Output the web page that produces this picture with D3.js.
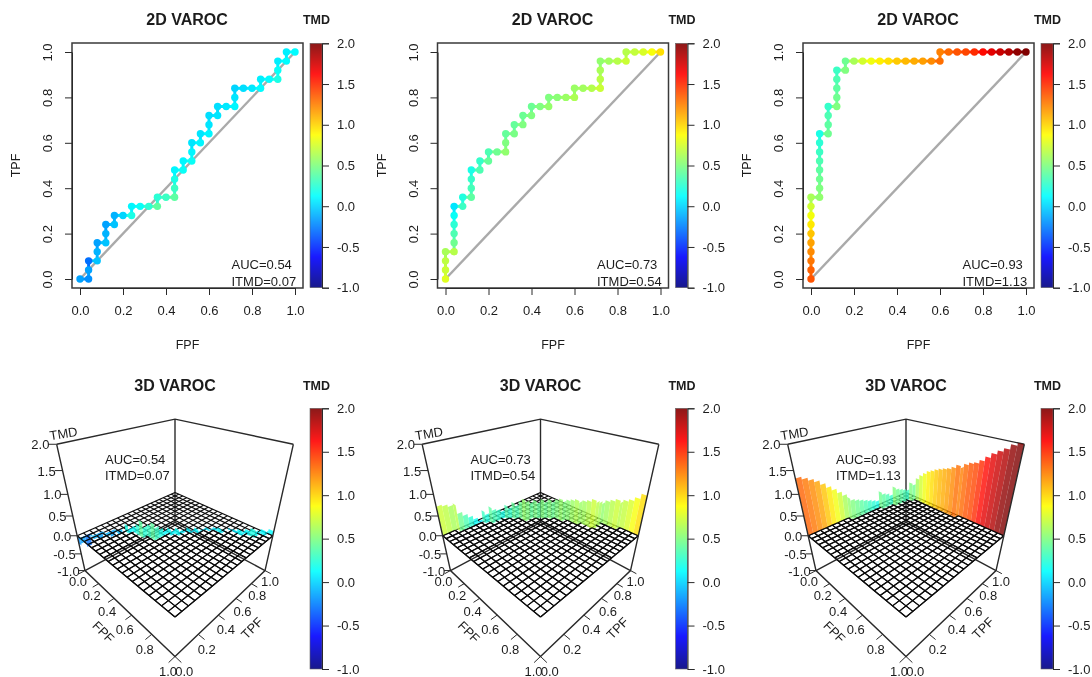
<!DOCTYPE html>
<html><head><meta charset="utf-8">
<script src="https://cdn.jsdelivr.net/npm/d3@7"></script>
<style>
html,body{margin:0;padding:0;background:#fff}
svg{display:block;filter:blur(0.3px)}
text{font-family:"Liberation Sans",Arial,sans-serif;fill:#1c1c1c}
</style></head><body>
<svg id="c" width="1092" height="677"></svg>
<script>
const fpf1=[0,.04,.04,.04,.08,.08,.08,.12,.12,.12,.16,.16,.2,.24,.24,.28,.32,.36,.36,.4,.44,.44,.44,.44,.48,.48,.52,.52,.52,.56,.56,.6,.6,.6,.64,.64,.68,.72,.72,.72,.76,.8,.84,.84,.88,.92,.92,.92,.96,.96,1];
const tpf1=[0,0,.04,.08,.08,.12,.16,.16,.2,.24,.24,.28,.28,.28,.32,.32,.32,.32,.36,.36,.36,.4,.44,.48,.48,.52,.52,.56,.6,.6,.64,.64,.68,.72,.72,.76,.76,.76,.8,.84,.84,.84,.84,.88,.88,.88,.92,.96,.96,1,1];
const tmd1=[-.15,-.2,-.15,-.3,-.05,-.1,-.15,-.05,-.1,-.15,-.05,-.1,0,.2,.1,.15,.25,.4,.25,.3,.4,.3,.2,.1,.15,.1,.15,.1,.05,.1,.05,.1,.05,.03,.05,.03,.06,.1,.05,0,.03,.06,.12,.08,.12,.2,.15,.08,.12,.08,.12];
const fpf2=[0,0,0,0,.04,.04,.04,.04,.04,.04,.08,.08,.12,.12,.12,.12,.16,.16,.2,.2,.24,.28,.28,.28,.32,.32,.36,.36,.4,.4,.44,.48,.48,.52,.56,.6,.6,.64,.68,.72,.72,.72,.72,.76,.8,.84,.84,.88,.92,.96,1];
const tpf2=[0,.04,.08,.12,.12,.16,.2,.24,.28,.32,.32,.36,.36,.4,.44,.48,.48,.52,.52,.56,.56,.56,.6,.64,.64,.68,.68,.72,.72,.76,.76,.76,.8,.8,.8,.8,.84,.84,.84,.84,.88,.92,.96,.96,.96,.96,1,1,1,1,1];
const tmd2=[.78,.72,.68,.62,.66,.45,.35,.25,.15,.05,.3,.22,.4,.33,.28,.2,.35,.28,.42,.35,.45,.55,.5,.42,.48,.42,.5,.44,.5,.44,.5,.56,.5,.53,.58,.63,.58,.6,.65,.72,.67,.62,.55,.6,.66,.72,.66,.7,.76,.85,.97];
const fpf3=[0,0,0,0,0,0,0,0,0,0,.04,.04,.04,.04,.04,.04,.04,.04,.08,.08,.08,.08,.12,.12,.12,.12,.12,.16,.16,.2,.24,.28,.32,.36,.4,.44,.48,.52,.56,.6,.6,.64,.68,.72,.76,.8,.84,.88,.92,.96,1];
const tpf3=[0,.04,.08,.12,.16,.2,.24,.28,.32,.36,.36,.4,.44,.48,.52,.56,.6,.64,.64,.68,.72,.76,.76,.8,.84,.88,.92,.92,.96,.96,.96,.96,.96,.96,.96,.96,.96,.96,.96,.96,1,1,1,1,1,1,1,1,1,1,1];
const tmd3=[1.38,1.34,1.28,1.22,1.15,1.05,.94,.84,.73,.62,.55,.5,.45,.4,.35,.3,.25,.2,.45,.4,.35,.28,.5,.45,.4,.35,.3,.5,.45,.62,.74,.83,.92,.97,1.03,1.08,1.12,1.16,1.22,1.3,1.25,1.32,1.38,1.42,1.5,1.6,1.7,1.78,1.85,1.95,2];
const aucLabels=["AUC=0.54","AUC=0.73","AUC=0.93"];
const itmdLabels=["ITMD=0.07","ITMD=0.54","ITMD=1.13"];
const panelFpf=[fpf1,fpf2,fpf3], panelTpf=[tpf1,tpf2,tpf3], panelTmd=[tmd1,tmd2,tmd3];
const unitTicks=[0,.2,.4,.6,.8,1];
const tmdTicks=[-1,-.5,0,.5,1,1.5,2];
const jetStops=[-1,-.625,.125,.875,1.625,2];
const jetColors=["#00007f","#0000ff","#00ffff","#ffff00","#ff0000","#7f0000"];
const gridLevels=d3.range(21).map(i=>i/20);

const svg=d3.select("#c");
const jet=d3.scaleLinear().domain(jetStops).range(jetColors).clamp(true);
const grad=svg.append("defs").append("linearGradient").attr("id","jet").attr("x1",0).attr("x2",0).attr("y1",1).attr("y2",0);
jetStops.forEach((s,i)=>grad.append("stop").attr("offset",(s+1)/3).attr("stop-color",jetColors[i]));

const INK="#2a2a2a", DX=365.5, fmt=d=>d.toFixed(1);

function colorbar(g,top,bottom){
  const y=d3.scaleLinear().domain([-1,2]).range([bottom,top]);
  g.append("rect").attr("x",310).attr("y",top).attr("width",12).attr("height",bottom-top)
    .attr("fill","url(#jet)").attr("opacity",.9).attr("stroke","#555").attr("stroke-width",.6);
  const ax=g.append("g").attr("transform","translate(322,0)")
    .call(d3.axisRight(y).tickValues(tmdTicks).tickSize(7).tickFormat(fmt).tickPadding(8));
  ax.attr("font-family",null);
  ax.selectAll("path,line").attr("stroke",INK).attr("stroke-width",1);
  ax.selectAll("text").attr("font-size",13);
}

function panel2D(g,i){
  const fp=panelFpf[i],tp=panelTpf[i],tm=panelTmd[i];
  const x=d3.scaleLinear().domain([0,1]).range([80,295]);
  const y=d3.scaleLinear().domain([0,1]).range([279,52]);
  g.append("text").attr("x",187).attr("y",25).attr("text-anchor","middle").attr("font-weight","bold").attr("font-size",16).text("2D VAROC");
  g.append("text").attr("x",316.5).attr("y",24).attr("text-anchor","middle").attr("font-weight","bold").attr("font-size",12.5).text("TMD");
  g.append("line").attr("x1",x(0)).attr("y1",y(0)).attr("x2",x(1)).attr("y2",y(1)).attr("stroke","#aaa").attr("stroke-width",2.4);
  d3.range(fp.length-1).forEach(k=>{
    g.append("line").attr("x1",x(fp[k])).attr("y1",y(tp[k])).attr("x2",x(fp[k+1])).attr("y2",y(tp[k+1]))
     .attr("stroke",jet(tm[k+1])).attr("stroke-width",3);
  });
  g.selectAll("circle.p").data(fp).join("circle").attr("class","p")
    .attr("cx",d=>x(d)).attr("cy",(d,k)=>y(tp[k])).attr("r",3.7).attr("fill",(d,k)=>jet(tm[k]));
  g.append("rect").attr("x",72).attr("y",43).attr("width",231).attr("height",245).attr("fill","none").attr("stroke","#3a3a3a").attr("stroke-width",1.5);
  const ax=g.append("g").attr("transform","translate(0,288)").call(d3.axisBottom(x).tickValues(unitTicks).tickSize(7).tickSizeOuter(0).tickFormat(fmt).tickPadding(11));
  const ay=g.append("g").attr("transform","translate(72,0)").call(d3.axisLeft(y).tickValues(unitTicks).tickSize(7).tickSizeOuter(0).tickFormat(fmt));
  [ax,ay].forEach(a=>{a.attr("font-family",null);a.selectAll("path,line").attr("stroke",INK).attr("stroke-width",1);a.selectAll("text").attr("font-size",13);});
  ay.selectAll("text").attr("transform","rotate(-90)").attr("text-anchor","middle").attr("x",0).attr("dy",0).attr("y",-20);
  g.append("text").attr("x",187.5).attr("y",349).attr("text-anchor","middle").attr("font-size",12.5).text("FPF");
  g.append("text").attr("transform","translate(20,165.5) rotate(-90)").attr("text-anchor","middle").attr("font-size",12.5).text("TPF");
  g.append("text").attr("x",231.5).attr("y",269).attr("font-size",13).text(aucLabels[i]);
  g.append("text").attr("x",231.5).attr("y",285.5).attr("font-size",13).text(itmdLabels[i]);
  colorbar(g,43.3,287.7);
}

function panel3D(g,i){
  const fp=panelFpf[i],tp=panelTpf[i],tm=panelTmd[i];
  const U=d3.scaleLinear().domain([0,1]).range([-1,1]);
  const W=d3.scaleLinear().domain([-1,2]).range([-1,1]);
  const phi=31*Math.PI/180, L=3.79, S=72.3, CX=175, CY=516;
  const P=(a,b,z)=>{
    const u=U(a),v=U(b),w=W(z);
    const X=(u+v)/Math.SQRT2, D=(u-v)/Math.SQRT2;
    const Y=w*Math.cos(phi)-D*Math.sin(phi), Zc=w*Math.sin(phi)+D*Math.cos(phi);
    const s=1/(1-Zc/L);
    return [CX+S*X*s, CY-S*Y*s];
  };
  const path=d3.line();
  const seg=(pts,sw,col)=>g.append("path").attr("d",path(pts)).attr("fill","none").attr("stroke",col||INK).attr("stroke-width",sw||1.4);

  g.append("text").attr("x",175).attr("y",391).attr("text-anchor","middle").attr("font-weight","bold").attr("font-size",16).text("3D VAROC");
  g.append("text").attr("x",316.5).attr("y",390).attr("text-anchor","middle").attr("font-weight","bold").attr("font-size",12.5).text("TMD");

  // back box edges
  seg([P(0,0,2),P(0,1,2),P(1,1,2)]);
  seg([P(0,1,2),P(0,1,-1)]);
  seg([P(0,0,-1),P(0,1,-1),P(1,1,-1)]);

  // grid at z=0
  const h=gridLevels[1];
  gridLevels.forEach(a=>seg([P(a,0,0),P(a,1,0)],1.15,"#0c0c0c"));
  gridLevels.forEach(b=>seg([P(0,b,0),P(1,b,0)],1.15,"#0c0c0c"));

  // walls back to front
  const order=d3.range(fp.length-1).sort((p,q)=>(fp[p]+fp[p+1]-tp[p]-tp[p+1])-(fp[q]+fp[q+1]-tp[q]-tp[q+1]));
  order.forEach(k=>{
    const z=tm[k+1];
    g.append("path").attr("d",path([P(fp[k],tp[k],0),P(fp[k+1],tp[k+1],0),P(fp[k+1],tp[k+1],z),P(fp[k],tp[k],z)])+"Z")
      .attr("fill",jet(z)).attr("fill-opacity",.8);
  });

  // grid pieces in front of the curve go over the walls
  const curveAt=a=>d3.max(fp.map((f,k)=>f<=a+1e-6?tp[k]:-1));
  gridLevels.forEach(a=>{
    const top=curveAt(a);
    gridLevels.slice(0,-1).forEach(b=>{ if(b+h/2<=top) seg([P(a,b,0),P(a,b+h,0)],1.15,"#0c0c0c"); });
  });
  gridLevels.forEach(b=>{
    gridLevels.slice(0,-1).forEach(a=>{ if(b<=curveAt(a+h/2)) seg([P(a,b,0),P(a+h,b,0)],1.15,"#0c0c0c"); });
  });

  // front box edges
  seg([P(0,0,2),P(0,0,-1),P(1,0,-1),P(1,1,-1),P(1,1,2)]);

  // z axis
  tmdTicks.forEach(t=>{
    const a=P(0,0,t),b=P(-.035,-.035,t);
    seg([a,b],1);
    g.append("text").attr("x",b[0]+1).attr("y",a[1]+5).attr("text-anchor","end").attr("font-size",13).text(fmt(t));
  });
  // FPF axis
  unitTicks.forEach(t=>{
    const a=P(t,0,-1),b=P(t,-.05,-1);
    seg([a,b],1);
    g.append("text").attr("x",a[0]-7).attr("y",Math.min(676,a[1]+15.7+t*4.7)).attr("text-anchor","middle").attr("font-size",13).text(fmt(t));
  });
  // TPF axis
  unitTicks.forEach(t=>{
    const a=P(1,t,-1),b=P(1.05,t,-1);
    seg([a,b],1);
    g.append("text").attr("x",a[0]+9.3-t*4.3).attr("y",Math.min(676,a[1]+20.4-t*4.7)).attr("text-anchor","middle").attr("font-size",13).text(fmt(t));
  });
  g.append("text").attr("transform","translate(103.5,632) rotate(45)").attr("text-anchor","middle").attr("dy","0.35em").attr("font-size",13).text("FPF");
  g.append("text").attr("transform","translate(252,628) rotate(-45)").attr("text-anchor","middle").attr("dy","0.35em").attr("font-size",13).text("TPF");
  g.append("text").attr("transform","translate(63.5,433.5) rotate(-9)").attr("text-anchor","middle").attr("dy","0.35em").attr("font-size",13).text("TMD");
  g.append("text").attr("x",105).attr("y",464).attr("font-size",13).text(aucLabels[i]);
  g.append("text").attr("x",105).attr("y",480).attr("font-size",13).text(itmdLabels[i]);
  colorbar(g,408.3,669);
}

d3.range(3).forEach(i=>{
  panel2D(svg.append("g").attr("transform",`translate(${DX*i},0)`),i);
  panel3D(svg.append("g").attr("transform",`translate(${DX*i},0)`),i);
});
</script>
</body></html>
